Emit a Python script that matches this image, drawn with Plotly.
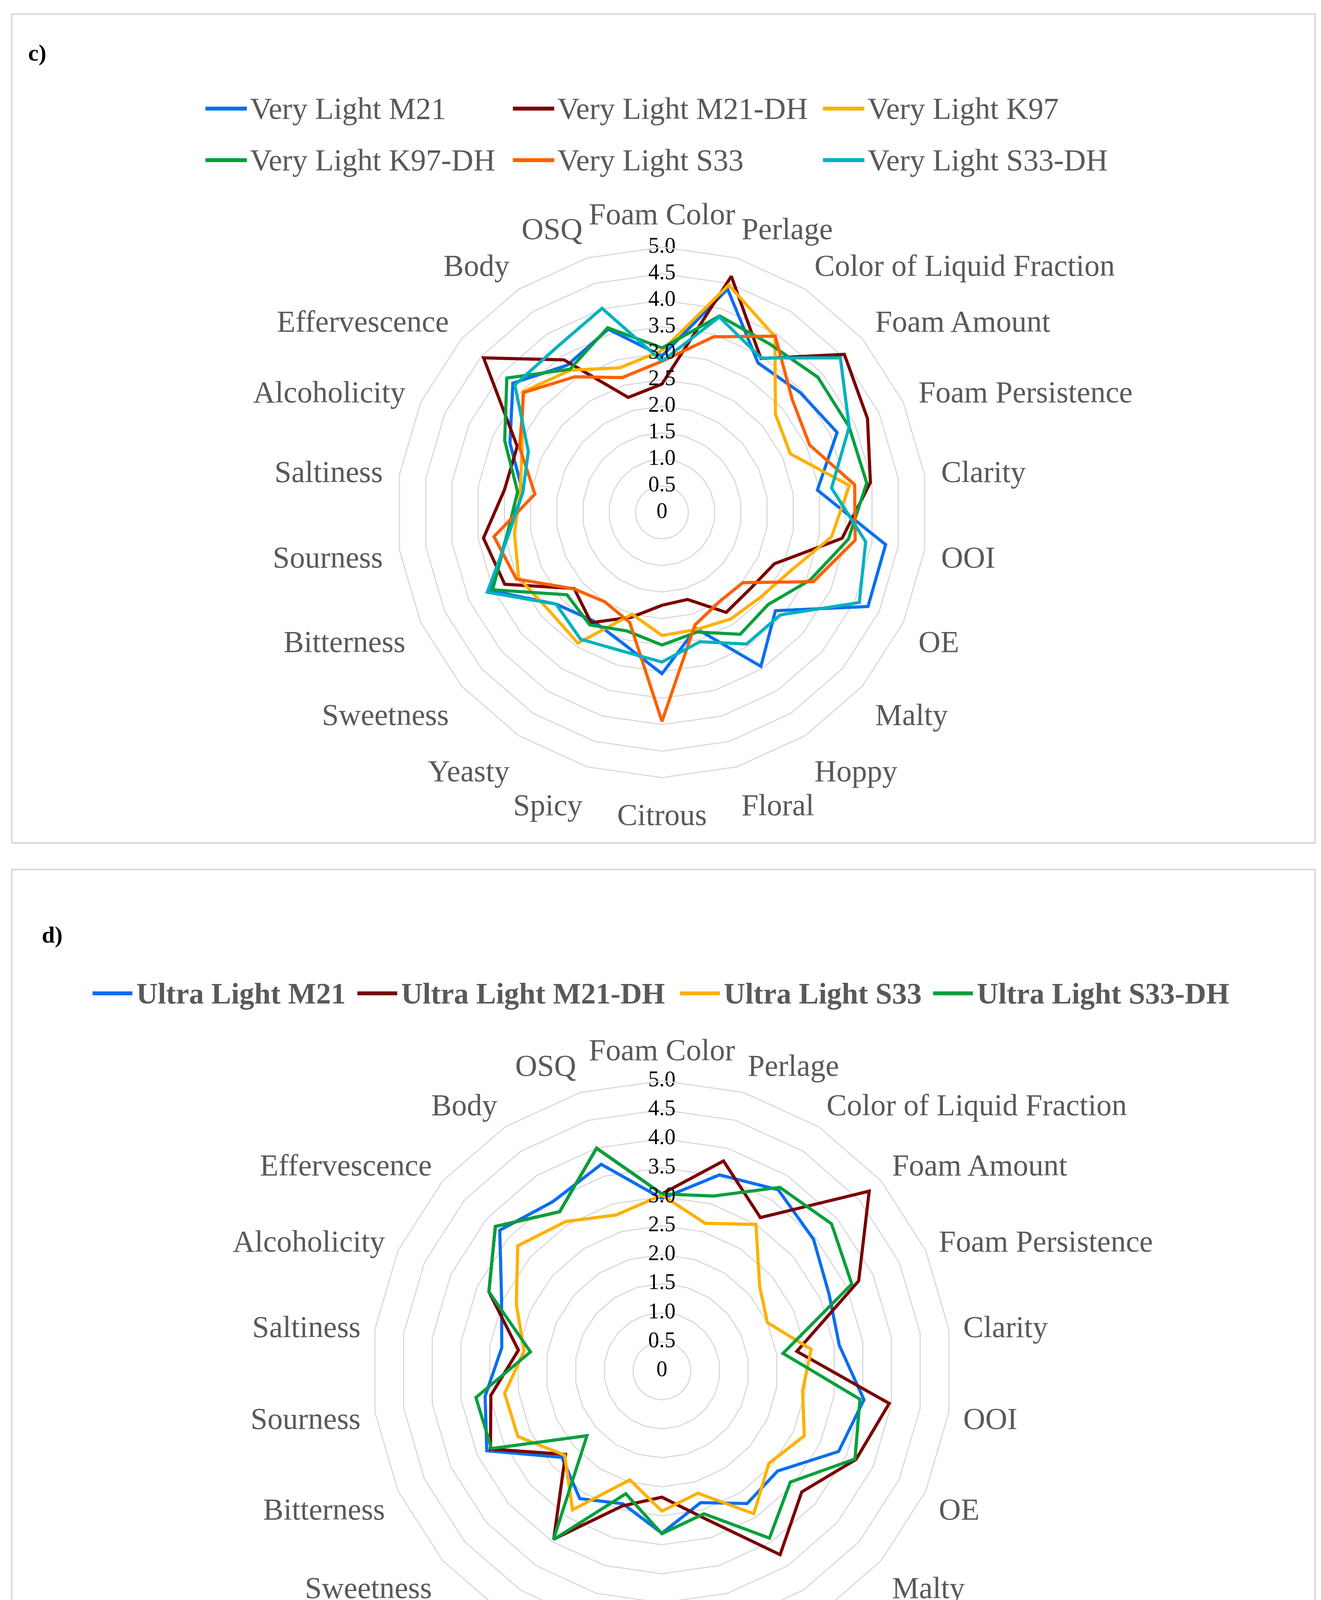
import plotly.graph_objects as go

# Sensory attributes (radar axes, clockwise from the top)
categories = ["Foam Color", "Perlage", "Color of Liquid Fraction", "Foam Amount",
              "Foam Persistence", "Clarity", "OOI", "OE", "Malty", "Hoppy", "Floral",
              "Citrous", "Spicy", "Yeasty", "Sweetness", "Bitterness", "Sourness",
              "Saltiness", "Alcoholicity", "Effervescence", "Body", "OSQ"]

# radial tick labels
tick_vals = [0, 0.5, 1, 1.5, 2, 2.5, 3, 3.5, 4, 4.5, 5]
tick_text = ["0", "0.5", "1.0", "1.5", "2.0", "2.5", "3.0", "3.5", "4.0", "4.5", "5.0"]

# c) Very Light beers
c_names = ["Very Light M21", "Very Light M21-DH", "Very Light K97",
           "Very Light K97-DH", "Very Light S33", "Very Light S33-DH"]
c_m21 = [2.95, 4.39, 3.35, 3.45, 3.63, 2.96, 4.26, 4.27, 2.83, 3.45, 2.28,
         3.04, 2.58, 2.42, 2.64, 3.55, 2.95, 2.65, 3.15, 3.72, 3.30, 3.60]
c_m21_dh = [2.42, 4.64, 3.45, 4.55, 4.26, 3.97, 3.43, 2.33, 2.20, 2.24, 1.71,
            1.75, 2.06, 2.47, 2.19, 3.26, 3.40, 3.00, 3.00, 4.45, 3.42, 2.26]
c_k97 = [3.05, 4.47, 3.94, 2.83, 2.66, 3.57, 3.23, 2.66, 2.45, 2.39, 2.30,
         2.32, 2.00, 2.93, 2.82, 2.97, 2.81, 2.70, 2.90, 3.47, 3.19, 2.84]
c_k97_dh = [3.10, 3.86, 3.77, 3.89, 3.88, 3.90, 3.55, 3.07, 2.65, 2.73, 2.35,
            2.50, 2.33, 2.52, 2.37, 3.51, 2.95, 2.75, 3.26, 3.87, 3.21, 3.63]
c_s33 = [2.85, 3.45, 3.95, 3.25, 3.06, 3.67, 3.68, 3.14, 2.02, 2.00, 2.21,
         3.94, 2.16, 2.00, 2.20, 3.02, 3.20, 2.42, 2.95, 3.45, 3.04, 2.65]
c_s33_dh = [2.85, 3.84, 3.46, 4.45, 3.88, 3.23, 3.88, 4.09, 2.95, 2.95, 2.54,
            2.82, 2.72, 2.84, 2.64, 3.62, 2.92, 2.65, 2.77, 3.67, 3.69, 4.01]
c_colors = ["#0A6EF0", "#7A0000", "#FFB000", "#00A03C", "#FF5F00", "#00B1BE"]

# d) Ultra Light beers
d_names = ["Ultra Light M21", "Ultra Light M21-DH", "Ultra Light S33", "Ultra Light S33-DH"]
d_m21 = [2.97, 3.52, 3.71, 3.46, 3.17, 3.09, 3.52, 3.35, 2.64, 2.72, 2.37,
         2.80, 2.39, 2.62, 2.28, 3.32, 3.08, 2.79, 3.04, 3.70, 3.47, 3.71]
d_m21_dh = [3.05, 3.77, 3.14, 4.73, 3.73, 2.35, 3.96, 3.68, 3.19, 3.77, 2.66,
            2.18, 2.43, 3.45, 2.20, 3.25, 2.98, 2.50, 3.28, 3.80, 3.26, 4.00]
d_s33 = [3.03, 2.65, 3.00, 2.23, 2.00, 2.60, 2.45, 2.70, 2.44, 2.93, 2.20,
         2.42, 1.96, 2.85, 2.22, 2.73, 2.74, 2.40, 2.76, 3.29, 3.06, 2.80]
d_s33_dh = [3.05, 3.14, 3.76, 3.87, 3.60, 2.11, 3.45, 3.66, 2.93, 3.43, 2.57,
            2.81, 2.21, 3.46, 1.71, 3.23, 3.24, 2.29, 3.28, 3.80, 3.26, 4.00]
d_colors = ["#0A6EF0", "#7A0000", "#FFB000", "#00A03C"]

serif = "Liberation Serif"
grid = "#D9D9D9"
W, H = 3382, 4419

fig = go.Figure()

# closed polygons for the radar lines
theta_closed = categories + [categories[0]]
for name, vals, col in zip(c_names, [c_m21, c_m21_dh, c_k97, c_k97_dh, c_s33, c_s33_dh], c_colors):
    fig.add_trace(go.Scatterpolar(r=vals + [vals[0]], theta=theta_closed, mode="lines",
                                  name=name, line=dict(color=col, width=8),
                                  subplot="polar", showlegend=False))
for name, vals, col in zip(d_names, [d_m21, d_m21_dh, d_s33, d_s33_dh], d_colors):
    fig.add_trace(go.Scatterpolar(r=vals + [vals[0]], theta=theta_closed, mode="lines",
                                  name=name, line=dict(color=col, width=8),
                                  subplot="polar2", showlegend=False))

# radial value labels, centred on the vertical axis (tiny offset so "0" is kept)
label_r = [max(v, 0.001) for v in tick_vals]
for sp in ["polar", "polar2"]:
    fig.add_trace(go.Scatterpolar(r=label_r, theta=[categories[0]] * len(tick_vals),
                                  mode="text", text=tick_text, textposition="middle center",
                                  textfont=dict(family=serif, size=56, color="#000000"),
                                  showlegend=False, hoverinfo="skip", subplot=sp))


def polar_style(dom_x, dom_y, pad):
    return dict(
        domain=dict(x=dom_x, y=dom_y),
        gridshape="linear",
        bgcolor="white",
        radialaxis=dict(range=[0, 5], tickvals=tick_vals, showticklabels=False,
                        showline=False, ticks="", gridcolor=grid, gridwidth=3),
        angularaxis=dict(rotation=90, direction="clockwise", showgrid=False,
                         categoryorder="array", categoryarray=categories,
                         linecolor=grid, linewidth=3, ticks="outside", ticklen=pad,
                         tickcolor="rgba(0,0,0,0)",
                         tickfont=dict(family=serif, size=78, color="#595959")),
    )


# hand-placed legends (Excel style: long line sample + text), pixel positions
shapes = [
    dict(type="rect", xref="paper", yref="paper", x0=22 / W, x1=3359 / W,
         y0=1 - 2150 / H, y1=1 - 28 / H, line=dict(color=grid, width=4)),
    dict(type="rect", xref="paper", yref="paper", x0=22 / W, x1=3359 / W,
         y0=1 - 4396 / H, y1=1 - 2218 / H, line=dict(color=grid, width=4)),
]
annotations = [
    dict(text="<b>c)</b>", xref="paper", yref="paper", x=62 / W, y=1 - 127 / H,
         xanchor="left", yanchor="middle", showarrow=False,
         font=dict(family=serif, size=60, color="#000000")),
    dict(text="<b>d)</b>", xref="paper", yref="paper", x=97 / W, y=1 - 2385 / H,
         xanchor="left", yanchor="middle", showarrow=False,
         font=dict(family=serif, size=60, color="#000000")),
]

c_leg_x = [518, 1305, 2099]
c_leg_y = [270, 402]
for i, (name, col) in enumerate(zip(c_names, c_colors)):
    x0 = c_leg_x[i % 3]
    yy = 1 - c_leg_y[i // 3] / H
    shapes.append(dict(type="line", xref="paper", yref="paper", x0=x0 / W, x1=(x0 + 106) / W,
                       y0=yy, y1=yy, line=dict(color=col, width=10)))
    annotations.append(dict(text=name, xref="paper", yref="paper", x=(x0 + 112) / W, y=yy,
                            xanchor="left", yanchor="middle", showarrow=False,
                            font=dict(family=serif, size=78, color="#595959")))

d_leg_x = [229, 907, 1733, 2381]
d_leg_y = 2535
for name, col, x0 in zip(d_names, d_colors, d_leg_x):
    yy = 1 - d_leg_y / H
    shapes.append(dict(type="line", xref="paper", yref="paper", x0=x0 / W, x1=(x0 + 102) / W,
                       y0=yy, y1=yy, line=dict(color=col, width=10)))
    annotations.append(dict(text="<b>" + name + "</b>", xref="paper", yref="paper",
                            x=(x0 + 110) / W, y=yy, xanchor="left", yanchor="middle",
                            showarrow=False,
                            font=dict(family=serif, size=76, color="#595959")))

fig.update_layout(
    width=W, height=H,
    margin=dict(l=0, r=0, t=0, b=0),
    paper_bgcolor="white",
    showlegend=False,
    polar=polar_style([0.2979, 0.6996], [0.5513, 0.8586], 26),
    polar2=polar_style([0.2792, 0.7182], [0.0397, 0.3757], 20),
    shapes=shapes,
    annotations=annotations,
)

fig.write_html("out.html")
